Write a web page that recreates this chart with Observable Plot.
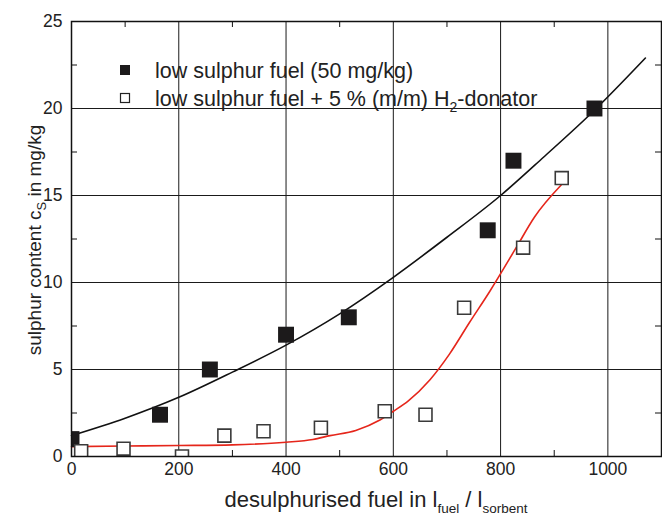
<!DOCTYPE html>
<html><head><meta charset="utf-8">
<script src="https://cdn.jsdelivr.net/npm/d3@7"></script>
<script src="https://cdn.jsdelivr.net/npm/@observablehq/plot@0.6"></script>
<style>
body{margin:0;background:#fff;}
#chart svg{font-family:"Liberation Sans",Arial,sans-serif;overflow:visible;}
</style>
</head><body><div id="chart"></div>
<script>
// measured points: low sulphur fuel (50 mg/kg)
const fuelX = [0, 165, 258, 400, 517, 776, 824, 975];
const fuelY = [1.0, 2.4, 5.0, 7.0, 8.0, 13.0, 17.0, 20.0];
// measured points: + 5 % (m/m) H2-donator
const donorX = [18, 97, 206, 285, 358, 465, 584, 660, 732, 842, 914];
const donorY = [0.3, 0.45, 0.0, 1.2, 1.45, 1.65, 2.6, 2.4, 8.55, 12.0, 16.0];
// fitted curve, black
const fitFuelX = [0, 100, 200, 300, 400, 500, 600, 700, 800, 880, 975, 1070];
const fitFuelY = [1.2, 2.2, 3.4, 4.85, 6.4, 8.2, 10.3, 12.6, 15.0, 17.2, 19.9, 22.9];
// fitted curve, red
const fitDonorX = [0, 100, 200, 300, 400, 450, 482, 530, 575, 600, 628, 668, 705, 742, 780, 829, 863, 913];
const fitDonorY = [0.57, 0.6, 0.63, 0.67, 0.82, 0.98, 1.2, 1.5, 2.1, 2.6, 3.2, 4.4, 5.9, 7.7, 9.5, 12.0, 13.75, 15.6];
// ticks
const xTicks = [0, 200, 400, 600, 800, 1000];
const xMinor = [100, 300, 500, 700, 900];
const yTicks = [0, 5, 10, 15, 20, 25];
const yMinor = [2.5, 7.5, 12.5, 17.5, 22.5];
// legend
const legendLabels = ["low sulphur fuel (50 mg/kg)", "low sulphur fuel + 5 % (m/m) H"];

const fuel = fuelX.map((x, i) => ({x, y: fuelY[i]}));
const donor = donorX.map((x, i) => ({x, y: donorY[i]}));
const fitFuel = fitFuelX.map((x, i) => ({x, y: fitFuelY[i]}));
const fitDonor = fitDonorX.map((x, i) => ({x, y: fitDonorY[i]}));

const W = 662, H = 522, mL = 71, mT = 21, mB = 66, mR = 1;
const pw = W - mL - mR, ph = H - mT - mB, tk = 6;
const chart = Plot.plot({
  width: W, height: H,
  marginLeft: mL, marginTop: mT, marginBottom: mB, marginRight: mR,
  style: {fontFamily: "Liberation Sans, Arial, sans-serif", fontSize: "17px", color: "#222", background: "white"},
  x: {domain: [0, 1100], label: null},
  y: {domain: [0, 25], label: null},
  marks: [
    Plot.gridX(xTicks, {stroke: "#1a1a1a", strokeOpacity: 1, strokeWidth: 1}),
    Plot.gridY(yTicks, {stroke: "#1a1a1a", strokeOpacity: 1, strokeWidth: 1}),
    Plot.axisX(xTicks, {anchor: "bottom", tickSize: 0, tickPadding: 6, fontSize: 17.5, fill: "#222", tickFormat: d => String(d)}),
    Plot.axisY(yTicks, {anchor: "left", tickSize: 0, tickPadding: 9, fontSize: 17.5, fill: "#222", tickFormat: d => String(d)}),
    // inward minor ticks
    Plot.ruleX(xMinor, {insetTop: ph - tk, stroke: "#111"}),
    Plot.ruleX(xMinor, {insetBottom: ph - tk, stroke: "#111"}),
    Plot.ruleY(yMinor, {insetRight: pw - tk, stroke: "#111"}),
    Plot.ruleY(yMinor, {insetLeft: pw - tk, stroke: "#111"}),
    Plot.line(fitFuel, {x: "x", y: "y", curve: "monotone-x", stroke: "#111", strokeWidth: 1.6}),
    Plot.line(fitDonor, {x: "x", y: "y", curve: "monotone-x", stroke: "#e5261b", strokeWidth: 1.6}),
    Plot.dot(fuel, {x: "x", y: "y", symbol: "square", r: 9, fill: "#1c1a1b", stroke: "none", clip: true}),
    Plot.dot(donor, {x: "x", y: "y", symbol: "square", r: 7.3, fill: "white", stroke: "#3a3a3a", strokeWidth: 1.6, clip: true}),
    Plot.frame({stroke: "#111", strokeWidth: 1.5})
  ]
});
document.getElementById("chart").appendChild(chart);

const svg = d3.select(chart);
// legend
const lg = svg.append("g").attr("font-size", 21.5).attr("fill", "#222").attr("text-anchor", "start");
lg.append("rect").attr("x", 120).attr("y", 65).attr("width", 10).attr("height", 10).attr("fill", "#1c1a1b");
lg.append("rect").attr("x", 120.5).attr("y", 93.5).attr("width", 9).attr("height", 9).attr("fill", "white").attr("stroke", "#222").attr("stroke-width", 1.2);
lg.append("text").attr("x", 155).attr("y", 77.5).attr("text-anchor", "start").text(legendLabels[0]);
const t2 = lg.append("text").attr("x", 155).attr("y", 105.5).attr("text-anchor", "start");
t2.append("tspan").text(legendLabels[1]);
t2.append("tspan").attr("font-size", 14).attr("dy", 6).text("2");
t2.append("tspan").attr("dy", -6).text("-donator");

// x axis title
const xt = svg.append("text").attr("x", 376).attr("y", 507).attr("text-anchor", "middle").attr("font-size", 22).attr("fill", "#222");
xt.append("tspan").text("desulphurised fuel in l");
xt.append("tspan").attr("font-size", 13.5).attr("dy", 6).text("fuel");
xt.append("tspan").attr("dy", -6).text(" / l");
xt.append("tspan").attr("font-size", 13.5).attr("dy", 6).text("sorbent");

// y axis title
const yt = svg.append("text").attr("transform", "translate(41,240) rotate(-90)").attr("text-anchor", "middle").attr("font-size", 19).attr("fill", "#222");
yt.append("tspan").text("sulphur content c");
yt.append("tspan").attr("font-size", 13).attr("dy", 5).text("S");
yt.append("tspan").attr("dy", -5).text(" in mg/kg");
</script>
</body></html>
